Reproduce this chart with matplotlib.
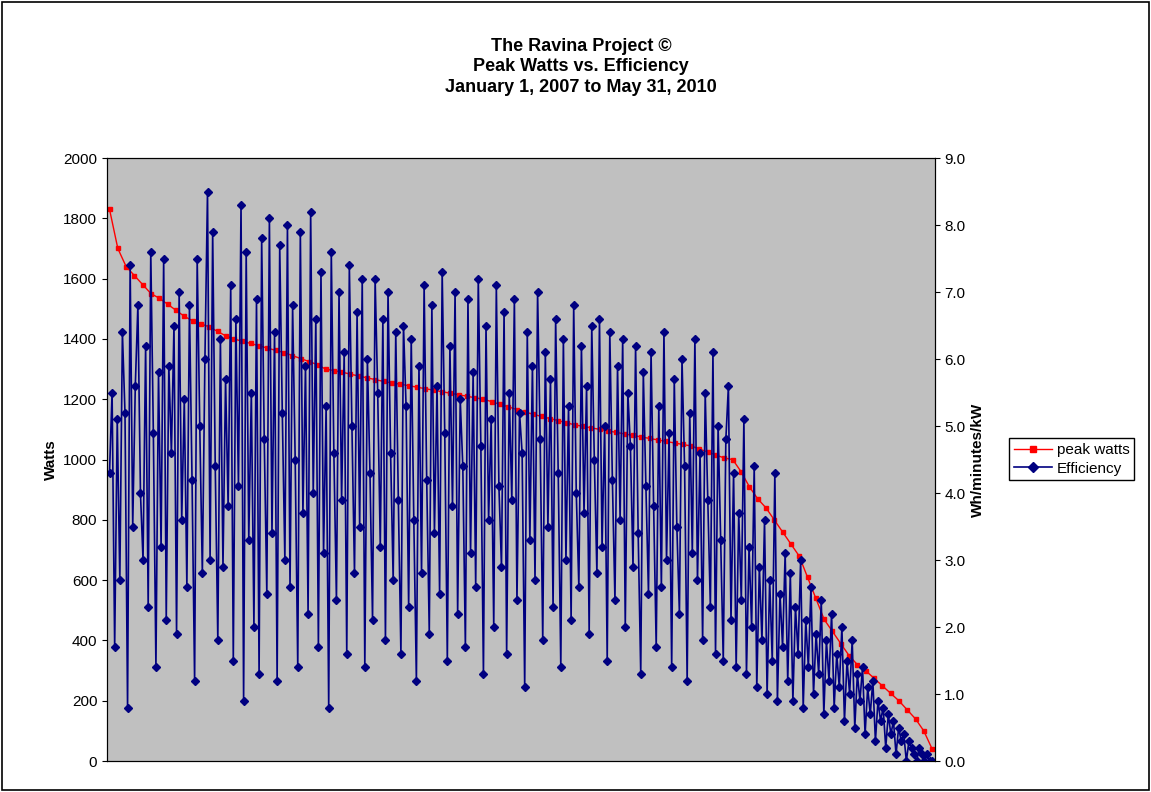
import numpy as np
import matplotlib
matplotlib.use("Agg")
import matplotlib.pyplot as plt
from matplotlib.lines import Line2D

plt.rcParams['font.family'] = ['Liberation Sans', 'DejaVu Sans']

peak_watts = [1830,1700,1640,1610,1580,1550,1535,1515,1495,1475,1460,1450,1440,1425,1410,1400,1392,1385,1377,1370,
              1362,1355,1345,1335,1325,1315,1300,1295,1290,1283,1277,1271,1265,1259,1254,1250,1245,1240,1235,1230,
              1225,1220,1215,1210,1205,1200,1192,1183,1175,1166,1158,1150,1143,1136,1129,1122,1115,1110,1105,1100,
              1095,1090,1085,1080,1075,1070,1065,1060,1055,1050,1045,1035,1025,1015,1005,1000,960,910,870,840,
              800,760,720,680,610,540,470,430,390,350,320,300,275,250,225,200,170,140,100,40]

efficiency = [4.3,5.5,1.7,5.1,2.7,6.4,5.2,0.8,7.4,3.5,5.6,6.8,4.0,3.0,6.2,2.3,7.6,4.9,1.4,5.8,
              3.2,7.5,2.1,5.9,4.6,6.5,1.9,7.0,3.6,5.4,2.6,6.8,4.2,1.2,7.5,5.0,2.8,6.0,8.5,3.0,
              7.9,4.4,1.8,6.3,2.9,5.7,3.8,7.1,1.5,6.6,4.1,8.3,0.9,7.6,3.3,5.5,2.0,6.9,1.3,7.8,
              4.8,2.5,8.1,3.4,6.4,1.2,7.7,5.2,3.0,8.0,2.6,6.8,4.5,1.4,7.9,3.7,5.9,2.2,8.2,4.0,
              6.6,1.7,7.3,3.1,5.3,0.8,7.6,4.6,2.4,7.0,3.9,6.1,1.6,7.4,5.0,2.8,6.7,3.5,7.2,1.4,
              6.0,4.3,2.1,7.2,5.5,3.2,6.6,1.8,7.0,4.6,2.7,6.4,3.9,1.6,6.5,5.3,2.3,6.3,3.6,1.2,
              5.9,2.8,7.1,4.2,1.9,6.8,3.4,5.6,2.5,7.3,4.9,1.5,6.2,3.8,7.0,2.2,5.4,4.4,1.7,6.9,
              3.1,5.8,2.6,7.2,4.7,1.3,6.5,3.6,5.1,2.0,7.1,4.1,2.9,6.7,1.6,5.5,3.9,6.9,2.4,5.2,
              4.6,1.1,6.4,3.3,5.9,2.7,7.0,4.8,1.8,6.1,3.5,5.7,2.3,6.6,4.3,1.4,6.3,3.0,5.3,2.1,
              6.8,4.0,2.6,6.2,3.7,5.6,1.9,6.5,4.5,2.8,6.6,3.2,5.0,1.5,6.4,4.2,2.4,5.9,3.6,6.3,
              2.0,5.5,4.7,2.9,6.2,3.4,1.3,5.8,4.1,2.5,6.1,3.8,1.7,5.3,2.6,6.4,3.0,4.9,1.4,5.7,
              3.5,2.2,6.0,4.4,1.2,5.2,3.1,6.3,2.7,4.6,1.8,5.5,3.9,2.3,6.1,1.6,5.0,3.3,1.5,4.8,
              5.6,2.1,4.3,1.4,3.7,2.4,5.1,1.3,3.2,2.0,4.4,1.1,2.9,1.8,3.6,1.0,2.7,1.5,4.3,0.9,
              2.5,1.7,3.1,1.2,2.8,0.9,2.3,1.6,3.0,0.8,2.1,1.4,2.6,1.0,1.9,1.3,2.4,0.7,1.8,1.2,
              2.2,0.8,1.6,1.1,2.0,0.6,1.5,1.0,1.8,0.5,1.3,0.9,1.4,0.4,1.1,0.7,1.2,0.3,0.9,0.6,
              0.8,0.2,0.7,0.4,0.6,0.1,0.5,0.3,0.4,0.0,0.3,0.2,0.1,0.0,0.2,0.1,0.0,0.1,0.0,0.0]

fig = plt.figure(figsize=(11.51, 7.92), dpi=100)
fig.patches.append(plt.Rectangle((0.002, 0.002), 0.996, 0.996, transform=fig.transFigure,
                                 fill=False, edgecolor='black', linewidth=1.2))
ax = fig.add_axes([0.093, 0.039, 0.719, 0.7615])
ax.set_facecolor('#C0C0C0')
ax2 = ax.twinx()

xp = np.linspace(0, 1, len(peak_watts))
xe = np.linspace(0, 1, len(efficiency))
ax.plot(xp, peak_watts, color='red', marker='s', markersize=3.5, linewidth=1, zorder=1)
ax2.plot(xe, efficiency, color='#000080', marker='D', markersize=4, linewidth=1.2)

ax.set_xlim(-0.003, 1.003)
ax.set_ylim(0, 2000)
ax2.set_ylim(0, 9)
ax.set_yticks(range(0, 2001, 200))
ax2.set_yticks(np.arange(0, 9.01, 1.0))
ax2.set_yticklabels([f"{v:.1f}" for v in np.arange(0, 9.01, 1.0)])
ax.set_xticks([])
for a in (ax, ax2):
    a.tick_params(labelsize=11)
ax.set_ylabel('Watts', fontsize=11, fontweight='bold')
ax2.set_ylabel('Wh/minutes/kW', fontsize=11, fontweight='bold')

fig.text(0.505, 0.952, 'The Ravina Project ©\nPeak Watts vs. Efficiency\nJanuary 1, 2007 to May 31, 2010',
         ha='center', va='top', fontsize=13, fontweight='bold', linespacing=1.25)

handles = [Line2D([], [], color='red', marker='s', markersize=4, linewidth=1),
           Line2D([], [], color='#000080', marker='D', markersize=5, linewidth=1.2)]
fig.legend(handles, ['peak watts', 'Efficiency'], loc='center left', bbox_to_anchor=(0.877, 0.42),
           fancybox=False, edgecolor='black', fontsize=11, framealpha=1, handlelength=2.5,
           borderpad=0.3, labelspacing=0.3, handletextpad=0.3, borderaxespad=0)

fig.savefig('out.png', dpi=100)
